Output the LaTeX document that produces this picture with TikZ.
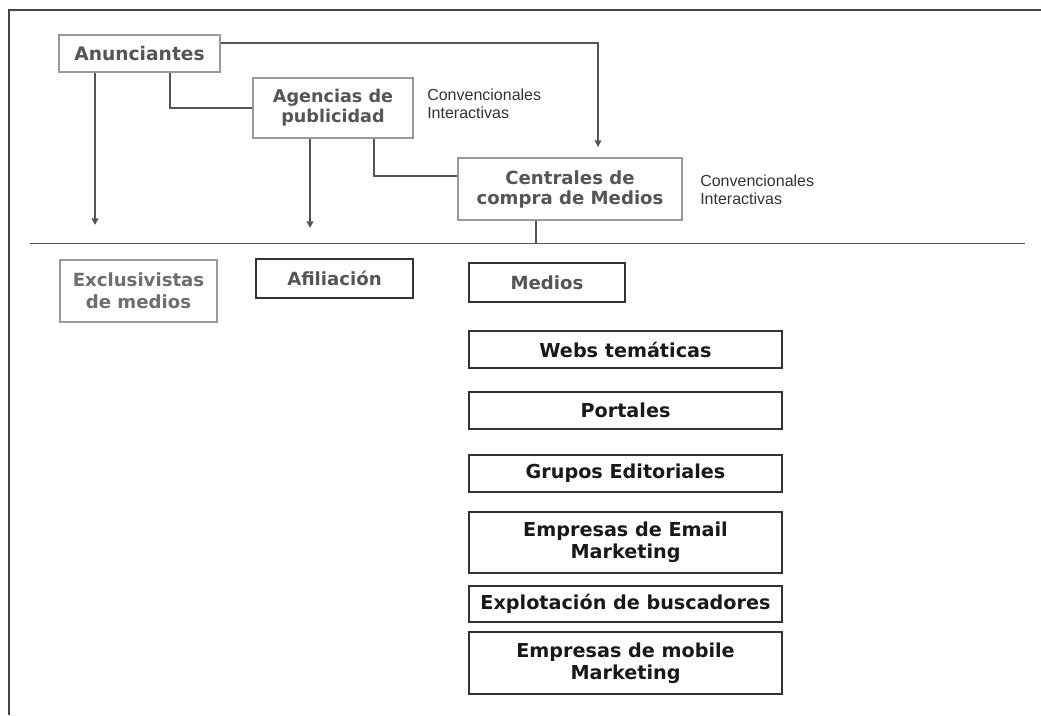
\documentclass[tikz,border=0pt]{standalone}
\usepackage{fontspec}
\setmainfont{DejaVu Sans}
\newfontfamily\notefont{Liberation Sans}
\usetikzlibrary{arrows.meta,calc}
\definecolor{frameC}{HTML}{444444}
\definecolor{lineC}{HTML}{555555}
\definecolor{softbox}{HTML}{9A9A9A}
\definecolor{softtext}{HTML}{555555}
\definecolor{darkbox}{HTML}{333333}
\newcommand{\bsize}[2]{\bfseries\fontsize{#1}{#2}\selectfont}
\tikzset{
  topbox/.style={draw=softbox, line width=1.5pt, fill=white, align=center,
    text=softtext, inner sep=0pt},
  midbox/.style={draw=darkbox, line width=1.5pt, fill=white, align=center,
    text=softtext, inner sep=0pt},
  listbox/.style={draw=darkbox, line width=1.5pt, fill=white, align=center,
    font=\bsize{14.4}{16.5}, text=black!90, inner sep=0pt,
    minimum width=234.75pt},
  note/.style={font=\notefont\fontsize{12}{13.5}\selectfont, text=black!80,
    align=left, anchor=north west, inner sep=0pt},
  conn/.style={draw=lineC, line width=1.1pt},
  arr/.style={conn, -{Triangle[length=5pt,width=5pt]}}
}
\begin{document}
\begin{tikzpicture}[x=0.75pt,y=-0.75pt]
\useasboundingbox (0,0) rectangle (1041,715);
% page frame (top and left edges only)
\draw[frameC, line width=2.2pt] (9,715) -- (9,10) -- (1041,10);

% upper chain
\node[topbox, font=\bsize{14}{16}, minimum width=120.75pt, minimum height=27.75pt] (anun) at (139.5,53.5) {Anunciantes};
\node[topbox, font=\bsize{13.2}{15}, minimum width=120pt, minimum height=45pt] (agen) at (333,108) {Agencias de\\publicidad};
\node[topbox, font=\bsize{13.6}{15}, minimum width=168pt, minimum height=46.5pt] (cent) at (570,189) {Centrales de\\compra de Medios};

\node[note] (nAgen) at (427,89) {Convencionales\\Interactivas};
\node[note] (nCent) at (700,175) {Convencionales\\Interactivas};

% divider between buyers and sellers
\coordinate (divL) at (30,243.5);
\coordinate (divR) at (1025,243.5);
\draw[conn, line width=0.9pt] (divL) -- (divR);

% lower row
\node[topbox, font=\bsize{13.6}{16.5}, text=softtext!85, minimum width=117.75pt, minimum height=46.5pt] (excl) at (138.5,291) {Exclusivistas\\de medios};
\node[midbox, font=\bsize{13.6}{16}, minimum width=117.75pt, minimum height=29.25pt] (afil) at (334.5,278.5) {Afiliación};
\node[midbox, font=\bsize{13.6}{16}, minimum width=117pt, minimum height=29.25pt] (medi) at (547,282.5) {Medios};

% media list
\node[listbox, minimum height=27.75pt] (webs) at (625.5,349.5) {Webs temáticas};
\node[listbox, minimum height=27.75pt] (port) at (625.5,410.5) {Portales};
\node[listbox, minimum height=27.75pt] (grup) at (625.5,473.5) {Grupos Editoriales};
\node[listbox, minimum height=45.75pt] (mail) at (625.5,542.5) {Empresas de Email\\Marketing};
\node[listbox, minimum height=27pt] (busc) at (625.5,604) {Explotación de buscadores};
\node[listbox, minimum height=46.5pt] (mobi) at (625.5,663) {Empresas de mobile\\Marketing};

% connectors
\coordinate (anunTip) at (95,225);
\coordinate (agenTip) at (310,228);
\coordinate (centTip) at (598,147);
\draw[arr] (anun.south -| anunTip) -- (anunTip);
\draw[arr] (anun.east |- 0,43) -| (centTip);
\draw[conn] (anun.south -| 170,0) |- (agen.west);
\draw[arr] (agen.south -| agenTip) -- (agenTip);
\draw[conn] (agen.south -| 374,0) |- ($(cent.west)+(0,-13)$);
\draw[conn, line width=0.9pt] (cent.south -| 536,0) -- (divL -| 536,0);
\end{tikzpicture}
\end{document}
